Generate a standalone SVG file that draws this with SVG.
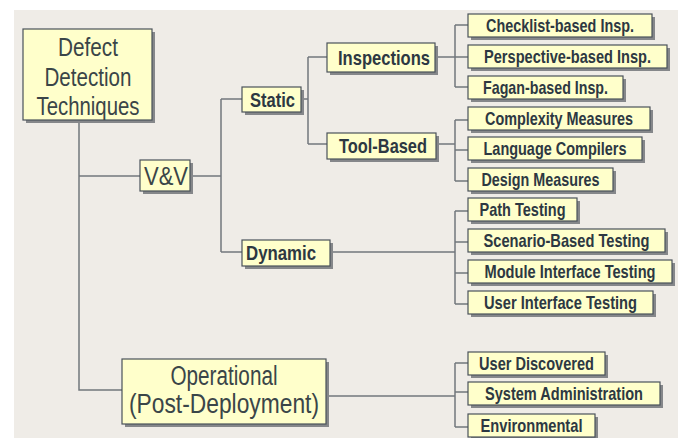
<svg xmlns="http://www.w3.org/2000/svg" width="678" height="438" viewBox="0 0 678 438">
<style>
.bg{fill:#efece7}
.sh{fill:#85878a}
.bx{fill:#ffffcb;stroke:#4a525a;stroke-width:1.2}
.ln{fill:none;stroke:#72777c;stroke-width:1.5}
.big{font-family:"Liberation Sans",Arial,sans-serif;fill:#3a4548;text-anchor:middle}
.mid{font-family:"Liberation Sans",Arial,sans-serif;font-weight:bold;fill:#2d3842;text-anchor:middle}
.lf{font-family:"Liberation Sans",Arial,sans-serif;font-weight:bold;font-size:16px;fill:#2d3842;text-anchor:middle}
</style>
<rect width="678" height="438" fill="#ffffff"/>
<rect class="bg" x="14" y="10" width="664" height="428"/>
<g id="connectors" class="ln">
<path d="M79,120 V390 H122"/>
<path d="M79,176 H140"/>
<path d="M190,176 H221"/>
<path d="M221,99 V252"/>
<path d="M221,99 H242"/>
<path d="M221,252 H242"/>
<path d="M301,99 H308"/>
<path d="M308,57 V144"/>
<path d="M308,57 H327"/>
<path d="M308,144 H327"/>
<path d="M435,57 H455"/>
<path d="M455,25 V87"/>
<path d="M455,25 H468 M455,57 H468 M455,87 H468"/>
<path d="M436,144 H455"/>
<path d="M455,120 V181"/>
<path d="M455,120 H468 M455,150 H468 M455,181 H468"/>
<path d="M330,252 H455"/>
<path d="M455,211 V304"/>
<path d="M455,211 H468 M455,242 H468 M455,273 H468 M455,304 H468"/>
<path d="M326,396 H455"/>
<path d="M455,363 V427"/>
<path d="M455,363 H468 M455,392 H468 M455,427 H468"/>
</g>
<g id="root">
<rect class="sh" x="26" y="32" width="129" height="91"/>
<rect class="bx" x="23" y="29" width="129" height="91"/>
<text class="big" x="88" y="56" font-size="26" textLength="60" lengthAdjust="spacingAndGlyphs">Defect</text>
<text class="big" x="88" y="86" font-size="26" textLength="87" lengthAdjust="spacingAndGlyphs">Detection</text>
<text class="big" x="88" y="115" font-size="26" textLength="103" lengthAdjust="spacingAndGlyphs">Techniques</text>
</g>
<g id="vv">
<rect class="sh" x="143" y="163" width="50" height="31"/>
<rect class="bx" x="140" y="160" width="50" height="31"/>
<text class="big" x="166" y="185" font-size="25" textLength="44" lengthAdjust="spacingAndGlyphs">V&amp;V</text>
</g>
<g id="static">
<rect class="sh" x="245" y="90" width="59" height="25"/>
<rect class="bx" x="242" y="87" width="59" height="25"/>
<text class="mid" x="272.5" y="106.5" font-size="19.5" textLength="45" lengthAdjust="spacingAndGlyphs">Static</text>
</g>
<g id="inspections">
<rect class="sh" x="330" y="46" width="108" height="29"/>
<rect class="bx" x="327" y="43" width="108" height="29"/>
<text class="mid" x="384" y="65" font-size="21" textLength="92" lengthAdjust="spacingAndGlyphs">Inspections</text>
</g>
<g id="toolbased">
<rect class="sh" x="330" y="136" width="109" height="26"/>
<rect class="bx" x="327" y="133" width="109" height="26"/>
<text class="mid" x="383" y="153" font-size="21" textLength="88" lengthAdjust="spacingAndGlyphs">Tool-Based</text>
</g>
<g id="dynamic">
<rect class="sh" x="245" y="243" width="88" height="26"/>
<rect class="bx" x="242" y="240" width="88" height="26"/>
<text class="mid" x="281" y="260" font-size="20" textLength="70" lengthAdjust="spacingAndGlyphs">Dynamic</text>
</g>
<g id="operational">
<rect class="sh" x="125" y="362" width="204" height="65"/>
<rect class="bx" x="122" y="359" width="204" height="65"/>
<text class="big" x="224" y="385" font-size="27" textLength="107" lengthAdjust="spacingAndGlyphs">Operational</text>
<text class="big" x="224" y="413" font-size="27" textLength="190" lengthAdjust="spacingAndGlyphs">(Post-Deployment)</text>
</g>
<g id="checklist">
<rect class="sh" x="471" y="17" width="184" height="23"/>
<rect class="bx" x="468" y="14" width="184" height="23"/>
<text class="lf" transform="translate(560,32) scale(1,1.13)" textLength="148" lengthAdjust="spacingAndGlyphs">Checklist-based Insp.</text>
</g>
<g id="perspective">
<rect class="sh" x="471" y="48" width="199" height="23"/>
<rect class="bx" x="468" y="45" width="199" height="23"/>
<text class="lf" transform="translate(567.5,63) scale(1,1.13)" textLength="167" lengthAdjust="spacingAndGlyphs">Perspective-based Insp.</text>
</g>
<g id="fagan">
<rect class="sh" x="471" y="79" width="155" height="23"/>
<rect class="bx" x="468" y="76" width="155" height="23"/>
<text class="lf" transform="translate(545.5,94) scale(1,1.13)" textLength="125" lengthAdjust="spacingAndGlyphs">Fagan-based Insp.</text>
</g>
<g id="complexity">
<rect class="sh" x="471" y="110" width="182" height="23"/>
<rect class="bx" x="468" y="107" width="182" height="23"/>
<text class="lf" transform="translate(559,125) scale(1,1.13)" textLength="148" lengthAdjust="spacingAndGlyphs">Complexity Measures</text>
</g>
<g id="language">
<rect class="sh" x="471" y="140" width="174" height="23"/>
<rect class="bx" x="468" y="137" width="174" height="23"/>
<text class="lf" transform="translate(555,155) scale(1,1.13)" textLength="143" lengthAdjust="spacingAndGlyphs">Language Compilers</text>
</g>
<g id="design">
<rect class="sh" x="471" y="171" width="145" height="23"/>
<rect class="bx" x="468" y="168" width="145" height="23"/>
<text class="lf" transform="translate(540.5,186) scale(1,1.13)" textLength="118" lengthAdjust="spacingAndGlyphs">Design Measures</text>
</g>
<g id="path">
<rect class="sh" x="471" y="201" width="109" height="23"/>
<rect class="bx" x="468" y="198" width="109" height="23"/>
<text class="lf" transform="translate(522.5,216) scale(1,1.13)" textLength="86" lengthAdjust="spacingAndGlyphs">Path Testing</text>
</g>
<g id="scenario">
<rect class="sh" x="471" y="232" width="197" height="23"/>
<rect class="bx" x="468" y="229" width="197" height="23"/>
<text class="lf" transform="translate(566.5,247) scale(1,1.13)" textLength="166" lengthAdjust="spacingAndGlyphs">Scenario-Based Testing</text>
</g>
<g id="module">
<rect class="sh" x="471" y="263" width="204" height="23"/>
<rect class="bx" x="468" y="260" width="204" height="23"/>
<text class="lf" transform="translate(570,278) scale(1,1.13)" textLength="171" lengthAdjust="spacingAndGlyphs">Module Interface Testing</text>
</g>
<g id="userinterface">
<rect class="sh" x="471" y="294" width="185" height="23"/>
<rect class="bx" x="468" y="291" width="185" height="23"/>
<text class="lf" transform="translate(560.5,309) scale(1,1.13)" textLength="153" lengthAdjust="spacingAndGlyphs">User Interface Testing</text>
</g>
<g id="userdiscovered">
<rect class="sh" x="471" y="355" width="137" height="23"/>
<rect class="bx" x="468" y="352" width="137" height="23"/>
<text class="lf" transform="translate(536.5,370) scale(1,1.13)" textLength="115" lengthAdjust="spacingAndGlyphs">User Discovered</text>
</g>
<g id="sysadmin">
<rect class="sh" x="471" y="385" width="192" height="23"/>
<rect class="bx" x="468" y="382" width="192" height="23"/>
<text class="lf" transform="translate(564,400) scale(1,1.13)" textLength="158" lengthAdjust="spacingAndGlyphs">System Administration</text>
</g>
<g id="environmental">
<rect class="sh" x="471" y="417" width="127" height="23"/>
<rect class="bx" x="468" y="414" width="127" height="23"/>
<text class="lf" transform="translate(531.5,432) scale(1,1.13)" textLength="102" lengthAdjust="spacingAndGlyphs">Environmental</text>
</g>
</svg>
